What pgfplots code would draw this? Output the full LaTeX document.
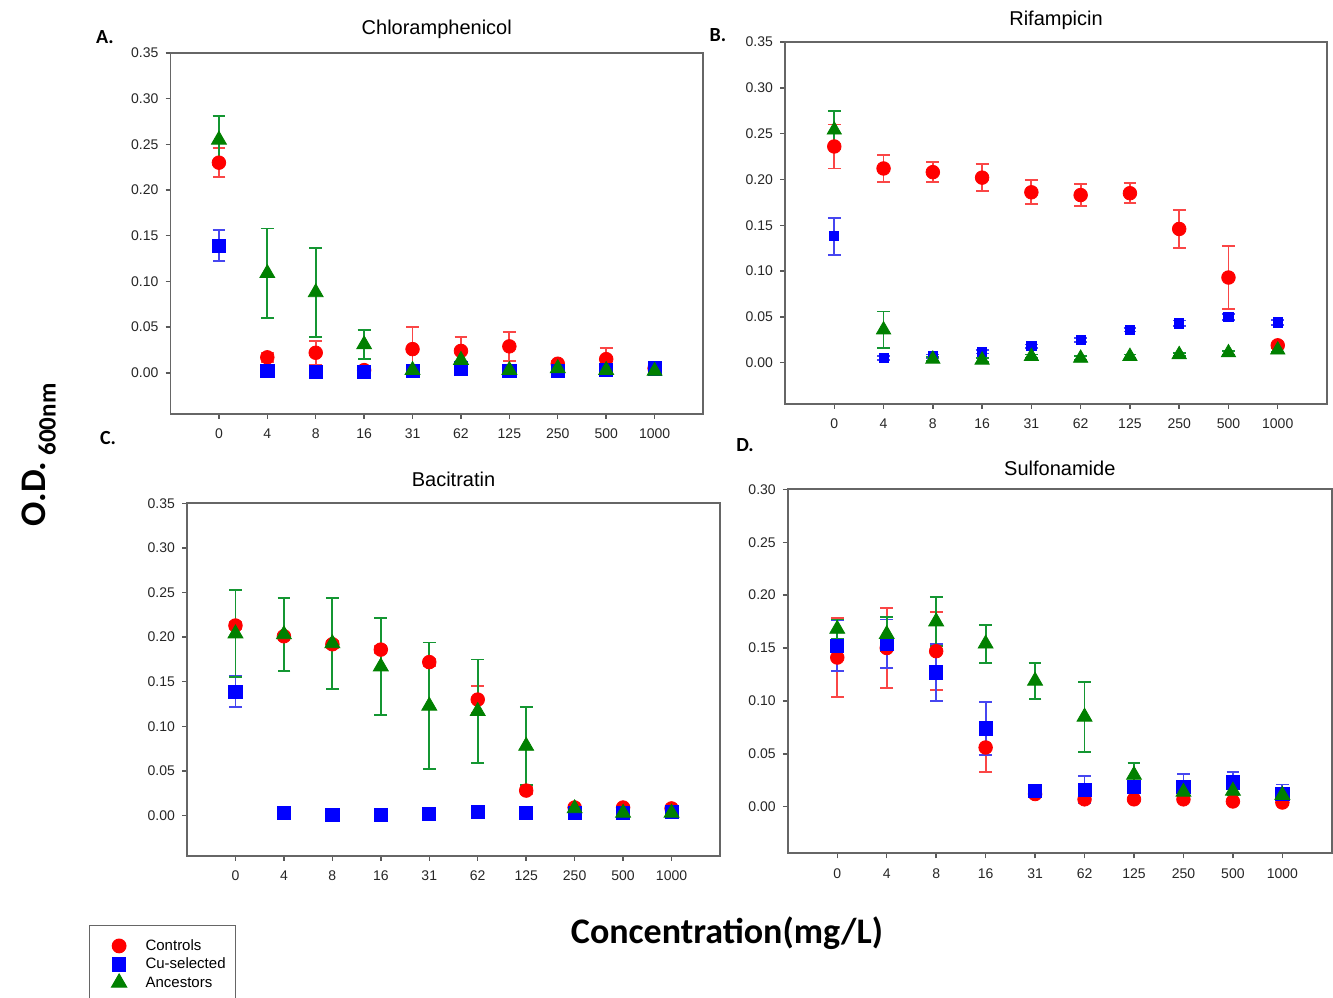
\documentclass[border=0pt]{standalone}
\usepackage{fontspec}
\setmainfont{Liberation Sans}
\newfontfamily\calibri{Carlito}
\usepackage{pgfplots}
\usepackage{pgfplotstable}
\pgfplotsset{compat=1.18}
\definecolor{ctrlred}{RGB}{255,0,0}
\definecolor{cublue}{RGB}{0,0,255}
\definecolor{ancgreen}{RGB}{0,128,0}
\definecolor{errred}{RGB}{250,70,70}
\definecolor{errblue}{RGB}{70,70,240}
\definecolor{errgreen}{RGB}{20,150,50}

% x = category index, c/u/a = Controls / Cu-selected / Ancestors, *e = error
\pgfplotstableread{
x c ce u ue a ae
0 0.230 0.016 0.139 0.017 0.255 0.026
1 0.017 0.005 0.002 0.002 0.109 0.049
2 0.022 0.013 0.001 0.001 0.088 0.049
3 0.003 0.002 0.001 0.001 0.031 0.016
4 0.026 0.024 0.002 0.002 0.003 0.002
5 0.024 0.015 0.005 0.003 0.014 0.009
6 0.029 0.016 0.002 0.001 0.003 0.002
7 0.010 0.003 0.002 0.001 0.005 0.002
8 0.015 0.012 0.003 0.002 0.003 0.002
9 0.005 0.002 0.005 0.002 0.002 0.002
}\tA
\pgfplotstableread{
x c ce u ue a ae
0 0.236 0.024 0.138 0.020 0.254 0.021
1 0.212 0.015 0.005 0.002 0.036 0.020
2 0.208 0.011 0.007 0.002 0.004 0.002
3 0.202 0.015 0.012 0.002 0.003 0.002
4 0.186 0.013 0.018 0.002 0.007 0.002
5 0.183 0.012 0.025 0.002 0.005 0.002
6 0.185 0.011 0.036 0.002 0.007 0.002
7 0.146 0.021 0.043 0.003 0.009 0.002
8 0.093 0.034 0.050 0.003 0.011 0.002
9 0.019 0.002 0.044 0.003 0.014 0.002
}\tB
\pgfplotstableread{
x c ce u ue a ae
0 0.213 0.004 0.139 0.017 0.204 0.049
1 0.201 0.004 0.003 0.001 0.203 0.041
2 0.192 0.004 0.001 0.001 0.193 0.051
3 0.186 0.004 0.001 0.001 0.167 0.054
4 0.172 0.004 0.002 0.001 0.123 0.071
5 0.130 0.015 0.004 0.001 0.117 0.058
6 0.028 0.004 0.003 0.001 0.078 0.044
7 0.009 0.002 0.003 0.001 0.008 0.002
8 0.009 0.002 0.003 0.001 0.003 0.001
9 0.008 0.002 0.004 0.001 0.003 0.001
}\tC
\pgfplotstableread{
x c ce u ue a ae
0 0.141 0.037 0.152 0.024 0.168 0.009
1 0.150 0.038 0.154 0.023 0.163 0.016
2 0.147 0.037 0.127 0.027 0.175 0.023
3 0.056 0.023 0.074 0.025 0.154 0.018
4 0.012 0.002 0.015 0.002 0.119 0.017
5 0.007 0.002 0.016 0.013 0.085 0.033
6 0.007 0.002 0.019 0.004 0.030 0.011
7 0.007 0.002 0.019 0.012 0.014 0.004
8 0.005 0.002 0.023 0.010 0.015 0.004
9 0.004 0.002 0.012 0.009 0.011 0.003
}\tD

\pgfplotsset{
  panel/.style={
    scale only axis, anchor=south west, clip=false,
    xmin=-1, xmax=10, ymin=-0.045, ymax=0.35,
    xtick={0,...,9},
    xticklabels={0,4,8,16,31,62,125,250,500,1000},
    ytick={0,0.05,0.1,0.15,0.2,0.25,0.3,0.35},
    tick align=outside, xtick pos=bottom, ytick pos=left,
    major tick length=2.5pt,
    tick style={color=black!65, line width=0.7pt},
    axis line style={color=black!60, line width=0.9pt},
    tick label style={font=\fontsize{7}{8}\selectfont, text=black!85},
    yticklabel style={/pgf/number format/.cd, fixed, fixed zerofill, precision=2, assume math mode=true},
    xticklabel style={yshift=-1.5pt},
    title style={font=\fontsize{10}{12}\selectfont, anchor=base, at={(0.5,1)}},
  },
  ctrl/.style={only marks, mark=*, mark size=3.4pt, color=ctrlred,
    error bars/.cd, y dir=both, y explicit,
    error bar style={color=errred, line width=0.9pt},
    error mark options={rotate=90, color=errred, mark size=3.2pt, line width=0.9pt}},
  cu/.style={only marks, mark=square*, mark size=3.3pt, color=cublue,
    error bars/.cd, y dir=both, y explicit,
    error bar style={color=errblue, line width=0.9pt},
    error mark options={rotate=90, color=errblue, mark size=3.2pt, line width=0.9pt}},
  anc/.style={only marks, mark=triangle*, mark size=4.3pt, color=ancgreen,
    error bars/.cd, y dir=both, y explicit,
    error bar style={color=errgreen, line width=0.9pt},
    error mark options={rotate=90, color=errgreen, mark size=3.2pt, line width=0.9pt}},
}

\begin{document}
\begin{tikzpicture}
\path (0,0) rectangle (666.5pt,498.5pt);

% A
\begin{axis}[panel, at={(85.25pt,291.5pt)}, width=266.25pt, height=180.5pt,
  title={Chloramphenicol}, title style={yshift=3pt}]
\addplot[ctrl] table[x=x, y=c, y error=ce] {\tA};
\addplot[cu] table[x=x, y=u, y error=ue] {\tA};
\addplot[anc] table[x=x, y=a, y error=ae] {\tA};
\end{axis}

% B
\begin{axis}[panel, at={(392.5pt,296.5pt)}, width=271pt, height=181pt,
  title={Rifampicin}, title style={yshift=2pt}]
\addplot[ctrl] table[x=x, y=c, y error=ce] {\tB};
\addplot[cu, /tikz/mark size=2.3pt] table[x=x, y=u, y error=ue] {\tB};
\addplot[anc, /tikz/mark size=4.1pt] table[x=x, y=a, y error=ae] {\tB};
\end{axis}

% C
\begin{axis}[panel, at={(93.5pt,70.65pt)}, width=266.5pt, height=176.2pt,
  title={Bacitratin}, title style={yshift=2.5pt},
  legend style={at={(-0.184,-0.197)}, anchor=north west, draw=black!60,
    line width=0.6pt, font=\fontsize{7.5}{9}\selectfont, inner xsep=3pt, inner ysep=5.5pt,
    nodes={inner ysep=0.8pt, text height=6pt, text depth=1.6pt},
    /tikz/every odd column/.append style={column sep=7.5pt}},
  legend image code/.code={\path (-3pt,0pt);
    \draw[mark repeat=2, mark phase=2, #1] plot coordinates {(0pt,0pt) (8.5pt,0pt) (17pt,0pt)};},
  legend cell align=left]
\addplot[ctrl] table[x=x, y=c, y error=ce] {\tC};
\addlegendentry{Controls}
\addplot[cu] table[x=x, y=u, y error=ue] {\tC};
\addlegendentry{Cu-selected}
\addplot[anc] table[x=x, y=a, y error=ae] {\tC};
\addlegendentry{Ancestors}
\end{axis}

% D
\begin{axis}[panel, at={(393.9pt,71.85pt)}, width=272pt, height=182pt,
  ymin=-0.044, ymax=0.30, ytick={0,0.05,0.1,0.15,0.2,0.25,0.3},
  title={Sulfonamide}, title style={yshift=1pt}]
\addplot[ctrl] table[x=x, y=c, y error=ce] {\tD};
\addplot[cu] table[x=x, y=u, y error=ue] {\tD};
\addplot[anc] table[x=x, y=a, y error=ae] {\tD};
\end{axis}

\node[font=\calibri\bfseries\fontsize{10}{12}\selectfont] at (52.5pt,480pt) {A.};
\node[font=\calibri\bfseries\fontsize{10}{12}\selectfont] at (359pt,481pt) {B.};
\node[font=\calibri\bfseries\fontsize{10}{12}\selectfont] at (54pt,279.5pt) {C.};
\node[font=\calibri\bfseries\fontsize{10}{12}\selectfont] at (372.5pt,276pt) {D.};

\node[rotate=90, font=\calibri\bfseries\fontsize{18}{20}\selectfont] at (19.5pt,271pt)
  {O.D.\,\raisebox{-0.55ex}{\fontsize{12.5}{14}\selectfont 600nm}};
\node[font=\calibri\bfseries\fontsize{18}{20}\selectfont] at (363.5pt,32pt) {Concentration(mg/L)};

\pgfresetboundingbox
\path (0,0) rectangle (666.5pt,498.5pt);
\end{tikzpicture}
\end{document}
